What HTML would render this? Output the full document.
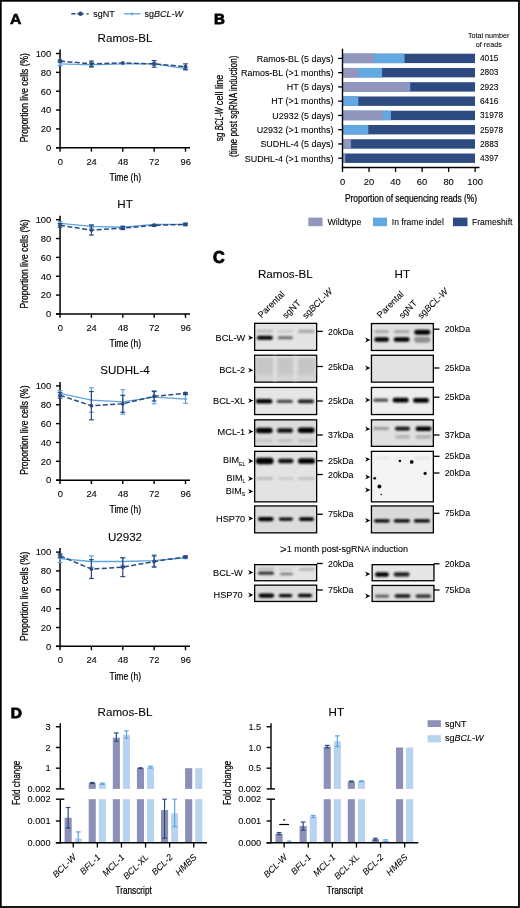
<!DOCTYPE html>
<html><head><meta charset="utf-8"><style>
html,body{margin:0;padding:0;background:#fff;}
svg{display:block;font-family:"Liberation Sans", sans-serif;will-change:transform;}
text{stroke:#000;stroke-width:0.08px;}
text.c{stroke-width:0.24px;}
</style></head><body>
<svg width="520" height="908" viewBox="0 0 520 908">
<rect width="520" height="908" fill="#fff"/>
<text x="10.10" y="23.90" font-size="15.4" text-anchor="start" fill="#000" font-weight="bold" textLength="11.4" lengthAdjust="spacingAndGlyphs" class="c" style="stroke-width:0.55px">A</text>
<line x1="71.30" y1="13.80" x2="75.60" y2="13.80" stroke="#2c4a7e" stroke-width="1.5"/>
<line x1="77.20" y1="13.80" x2="83.80" y2="13.80" stroke="#2c4a7e" stroke-width="1.5"/>
<line x1="86.60" y1="13.80" x2="88.60" y2="13.80" stroke="#2c4a7e" stroke-width="1.5"/>
<circle cx="80.5" cy="13.8" r="2.2" fill="#2c4a7e"/>
<text x="93.20" y="16.80" font-size="9" text-anchor="start" fill="#000">sgNT</text>
<line x1="123.80" y1="13.80" x2="140.50" y2="13.80" stroke="#5ea4de" stroke-width="1.3"/>
<path d="M132 12.2 L133.6 13.8 L132 15.4 L130.4 13.8Z" fill="#5ea4de"/>
<text x="144.50" y="16.80" font-size="9" text-anchor="start" fill="#000">sg<tspan font-style="italic">BCL-W</tspan></text>
<text x="125.00" y="42.00" font-size="11.6" text-anchor="middle" fill="#000">Ramos-BL</text>
<line x1="60.05" y1="49.50" x2="60.05" y2="148.45" stroke="#000" stroke-width="1.5"/>
<line x1="56.00" y1="147.75" x2="190.00" y2="147.75" stroke="#000" stroke-width="1.5"/>
<line x1="56.00" y1="147.75" x2="60.05" y2="147.75" stroke="#000" stroke-width="1.4"/>
<text x="51.30" y="151.05" font-size="9.4" text-anchor="end" fill="#000">0</text>
<line x1="56.00" y1="128.90" x2="60.05" y2="128.90" stroke="#000" stroke-width="1.4"/>
<text x="51.30" y="132.20" font-size="9.4" text-anchor="end" fill="#000">20</text>
<line x1="56.00" y1="110.05" x2="60.05" y2="110.05" stroke="#000" stroke-width="1.4"/>
<text x="51.30" y="113.35" font-size="9.4" text-anchor="end" fill="#000">40</text>
<line x1="56.00" y1="91.20" x2="60.05" y2="91.20" stroke="#000" stroke-width="1.4"/>
<text x="51.30" y="94.50" font-size="9.4" text-anchor="end" fill="#000">60</text>
<line x1="56.00" y1="72.35" x2="60.05" y2="72.35" stroke="#000" stroke-width="1.4"/>
<text x="51.30" y="75.65" font-size="9.4" text-anchor="end" fill="#000">80</text>
<line x1="56.00" y1="53.50" x2="60.05" y2="53.50" stroke="#000" stroke-width="1.4"/>
<text x="51.30" y="56.80" font-size="9.4" text-anchor="end" fill="#000">100</text>
<line x1="60.05" y1="147.75" x2="60.05" y2="151.65" stroke="#000" stroke-width="1.4"/>
<text x="60.25" y="164.85" font-size="9.4" text-anchor="middle" fill="#000">0</text>
<line x1="91.41" y1="147.75" x2="91.41" y2="151.65" stroke="#000" stroke-width="1.4"/>
<text x="91.61" y="164.85" font-size="9.4" text-anchor="middle" fill="#000">24</text>
<line x1="122.78" y1="147.75" x2="122.78" y2="151.65" stroke="#000" stroke-width="1.4"/>
<text x="122.98" y="164.85" font-size="9.4" text-anchor="middle" fill="#000">48</text>
<line x1="154.14" y1="147.75" x2="154.14" y2="151.65" stroke="#000" stroke-width="1.4"/>
<text x="154.34" y="164.85" font-size="9.4" text-anchor="middle" fill="#000">72</text>
<line x1="185.50" y1="147.75" x2="185.50" y2="151.65" stroke="#000" stroke-width="1.4"/>
<text x="185.70" y="164.85" font-size="9.4" text-anchor="middle" fill="#000">96</text>
<text x="125.30" y="181.05" font-size="11.6" text-anchor="middle" fill="#000" textLength="31.6" lengthAdjust="spacingAndGlyphs" class="c">Time (h)</text>
<text x="27.80" y="97.70" font-size="11.0" text-anchor="middle" fill="#000" textLength="89.2" lengthAdjust="spacingAndGlyphs" class="c" transform="rotate(-90 27.80 97.70)">Proportion live cells (%)</text>
<polyline points="60.05,63.87 91.41,64.81 122.78,63.87 154.14,63.87 185.50,68.58" fill="none" stroke="#5ea4de" stroke-width="1.3"/>
<line x1="60.05" y1="61.98" x2="60.05" y2="65.75" stroke="#5ea4de" stroke-width="1.2"/>
<line x1="57.65" y1="61.98" x2="62.45" y2="61.98" stroke="#5ea4de" stroke-width="1.2"/>
<line x1="57.65" y1="65.75" x2="62.45" y2="65.75" stroke="#5ea4de" stroke-width="1.2"/>
<path d="M60.05 62.27 L61.65 63.87 L60.05 65.47 L58.45 63.87Z" fill="#5ea4de"/>
<line x1="91.41" y1="62.45" x2="91.41" y2="67.17" stroke="#5ea4de" stroke-width="1.2"/>
<line x1="89.01" y1="62.45" x2="93.81" y2="62.45" stroke="#5ea4de" stroke-width="1.2"/>
<line x1="89.01" y1="67.17" x2="93.81" y2="67.17" stroke="#5ea4de" stroke-width="1.2"/>
<path d="M91.41 63.21 L93.01 64.81 L91.41 66.41 L89.81 64.81Z" fill="#5ea4de"/>
<path d="M122.78 62.27 L124.38 63.87 L122.78 65.47 L121.18 63.87Z" fill="#5ea4de"/>
<line x1="154.14" y1="62.45" x2="154.14" y2="65.28" stroke="#5ea4de" stroke-width="1.2"/>
<line x1="151.74" y1="62.45" x2="156.54" y2="62.45" stroke="#5ea4de" stroke-width="1.2"/>
<line x1="151.74" y1="65.28" x2="156.54" y2="65.28" stroke="#5ea4de" stroke-width="1.2"/>
<path d="M154.14 62.27 L155.74 63.87 L154.14 65.47 L152.54 63.87Z" fill="#5ea4de"/>
<line x1="185.50" y1="67.17" x2="185.50" y2="69.99" stroke="#5ea4de" stroke-width="1.2"/>
<line x1="183.10" y1="67.17" x2="187.90" y2="67.17" stroke="#5ea4de" stroke-width="1.2"/>
<line x1="183.10" y1="69.99" x2="187.90" y2="69.99" stroke="#5ea4de" stroke-width="1.2"/>
<path d="M185.50 66.98 L187.10 68.58 L185.50 70.18 L183.90 68.58Z" fill="#5ea4de"/>
<polyline points="60.05,61.04 91.41,63.87 122.78,62.92 154.14,63.87 185.50,66.69" fill="none" stroke="#2c4a7e" stroke-width="1.5" stroke-dasharray="5 2.4"/>
<line x1="60.05" y1="60.10" x2="60.05" y2="61.98" stroke="#2c4a7e" stroke-width="1.2"/>
<line x1="57.65" y1="60.10" x2="62.45" y2="60.10" stroke="#2c4a7e" stroke-width="1.2"/>
<line x1="57.65" y1="61.98" x2="62.45" y2="61.98" stroke="#2c4a7e" stroke-width="1.2"/>
<circle cx="60.05" cy="61.04" r="1.9" fill="#2c4a7e"/>
<line x1="91.41" y1="61.04" x2="91.41" y2="66.69" stroke="#2c4a7e" stroke-width="1.2"/>
<line x1="89.01" y1="61.04" x2="93.81" y2="61.04" stroke="#2c4a7e" stroke-width="1.2"/>
<line x1="89.01" y1="66.69" x2="93.81" y2="66.69" stroke="#2c4a7e" stroke-width="1.2"/>
<circle cx="91.41" cy="63.87" r="1.9" fill="#2c4a7e"/>
<circle cx="122.78" cy="62.92" r="1.9" fill="#2c4a7e"/>
<line x1="154.14" y1="60.57" x2="154.14" y2="67.17" stroke="#2c4a7e" stroke-width="1.2"/>
<line x1="151.74" y1="60.57" x2="156.54" y2="60.57" stroke="#2c4a7e" stroke-width="1.2"/>
<line x1="151.74" y1="67.17" x2="156.54" y2="67.17" stroke="#2c4a7e" stroke-width="1.2"/>
<circle cx="154.14" cy="63.87" r="1.9" fill="#2c4a7e"/>
<line x1="185.50" y1="63.87" x2="185.50" y2="69.52" stroke="#2c4a7e" stroke-width="1.2"/>
<line x1="183.10" y1="63.87" x2="187.90" y2="63.87" stroke="#2c4a7e" stroke-width="1.2"/>
<line x1="183.10" y1="69.52" x2="187.90" y2="69.52" stroke="#2c4a7e" stroke-width="1.2"/>
<circle cx="185.50" cy="66.69" r="1.9" fill="#2c4a7e"/>
<text x="125.00" y="208.20" font-size="11.6" text-anchor="middle" fill="#000">HT</text>
<line x1="60.05" y1="215.70" x2="60.05" y2="314.65" stroke="#000" stroke-width="1.5"/>
<line x1="56.00" y1="313.95" x2="190.00" y2="313.95" stroke="#000" stroke-width="1.5"/>
<line x1="56.00" y1="313.95" x2="60.05" y2="313.95" stroke="#000" stroke-width="1.4"/>
<text x="51.30" y="317.25" font-size="9.4" text-anchor="end" fill="#000">0</text>
<line x1="56.00" y1="295.10" x2="60.05" y2="295.10" stroke="#000" stroke-width="1.4"/>
<text x="51.30" y="298.40" font-size="9.4" text-anchor="end" fill="#000">20</text>
<line x1="56.00" y1="276.25" x2="60.05" y2="276.25" stroke="#000" stroke-width="1.4"/>
<text x="51.30" y="279.55" font-size="9.4" text-anchor="end" fill="#000">40</text>
<line x1="56.00" y1="257.40" x2="60.05" y2="257.40" stroke="#000" stroke-width="1.4"/>
<text x="51.30" y="260.70" font-size="9.4" text-anchor="end" fill="#000">60</text>
<line x1="56.00" y1="238.55" x2="60.05" y2="238.55" stroke="#000" stroke-width="1.4"/>
<text x="51.30" y="241.85" font-size="9.4" text-anchor="end" fill="#000">80</text>
<line x1="56.00" y1="219.70" x2="60.05" y2="219.70" stroke="#000" stroke-width="1.4"/>
<text x="51.30" y="223.00" font-size="9.4" text-anchor="end" fill="#000">100</text>
<line x1="60.05" y1="313.95" x2="60.05" y2="317.85" stroke="#000" stroke-width="1.4"/>
<text x="60.25" y="331.05" font-size="9.4" text-anchor="middle" fill="#000">0</text>
<line x1="91.41" y1="313.95" x2="91.41" y2="317.85" stroke="#000" stroke-width="1.4"/>
<text x="91.61" y="331.05" font-size="9.4" text-anchor="middle" fill="#000">24</text>
<line x1="122.78" y1="313.95" x2="122.78" y2="317.85" stroke="#000" stroke-width="1.4"/>
<text x="122.98" y="331.05" font-size="9.4" text-anchor="middle" fill="#000">48</text>
<line x1="154.14" y1="313.95" x2="154.14" y2="317.85" stroke="#000" stroke-width="1.4"/>
<text x="154.34" y="331.05" font-size="9.4" text-anchor="middle" fill="#000">72</text>
<line x1="185.50" y1="313.95" x2="185.50" y2="317.85" stroke="#000" stroke-width="1.4"/>
<text x="185.70" y="331.05" font-size="9.4" text-anchor="middle" fill="#000">96</text>
<text x="125.30" y="347.25" font-size="11.6" text-anchor="middle" fill="#000" textLength="31.6" lengthAdjust="spacingAndGlyphs" class="c">Time (h)</text>
<text x="27.80" y="263.90" font-size="11.0" text-anchor="middle" fill="#000" textLength="89.2" lengthAdjust="spacingAndGlyphs" class="c" transform="rotate(-90 27.80 263.90)">Proportion live cells (%)</text>
<polyline points="60.05,223.47 91.41,226.30 122.78,227.24 154.14,224.41 185.50,224.41" fill="none" stroke="#5ea4de" stroke-width="1.3"/>
<line x1="60.05" y1="221.58" x2="60.05" y2="225.35" stroke="#5ea4de" stroke-width="1.2"/>
<line x1="57.65" y1="221.58" x2="62.45" y2="221.58" stroke="#5ea4de" stroke-width="1.2"/>
<line x1="57.65" y1="225.35" x2="62.45" y2="225.35" stroke="#5ea4de" stroke-width="1.2"/>
<path d="M60.05 221.87 L61.65 223.47 L60.05 225.07 L58.45 223.47Z" fill="#5ea4de"/>
<line x1="91.41" y1="224.88" x2="91.41" y2="227.71" stroke="#5ea4de" stroke-width="1.2"/>
<line x1="89.01" y1="224.88" x2="93.81" y2="224.88" stroke="#5ea4de" stroke-width="1.2"/>
<line x1="89.01" y1="227.71" x2="93.81" y2="227.71" stroke="#5ea4de" stroke-width="1.2"/>
<path d="M91.41 224.70 L93.01 226.30 L91.41 227.90 L89.81 226.30Z" fill="#5ea4de"/>
<line x1="122.78" y1="225.83" x2="122.78" y2="228.65" stroke="#5ea4de" stroke-width="1.2"/>
<line x1="120.38" y1="225.83" x2="125.18" y2="225.83" stroke="#5ea4de" stroke-width="1.2"/>
<line x1="120.38" y1="228.65" x2="125.18" y2="228.65" stroke="#5ea4de" stroke-width="1.2"/>
<path d="M122.78 225.64 L124.38 227.24 L122.78 228.84 L121.18 227.24Z" fill="#5ea4de"/>
<path d="M154.14 222.81 L155.74 224.41 L154.14 226.01 L152.54 224.41Z" fill="#5ea4de"/>
<line x1="185.50" y1="223.00" x2="185.50" y2="225.83" stroke="#5ea4de" stroke-width="1.2"/>
<line x1="183.10" y1="223.00" x2="187.90" y2="223.00" stroke="#5ea4de" stroke-width="1.2"/>
<line x1="183.10" y1="225.83" x2="187.90" y2="225.83" stroke="#5ea4de" stroke-width="1.2"/>
<path d="M185.50 222.81 L187.10 224.41 L185.50 226.01 L183.90 224.41Z" fill="#5ea4de"/>
<polyline points="60.05,225.35 91.41,230.07 122.78,228.18 154.14,225.35 185.50,224.41" fill="none" stroke="#2c4a7e" stroke-width="1.5" stroke-dasharray="5 2.4"/>
<line x1="60.05" y1="223.47" x2="60.05" y2="227.24" stroke="#2c4a7e" stroke-width="1.2"/>
<line x1="57.65" y1="223.47" x2="62.45" y2="223.47" stroke="#2c4a7e" stroke-width="1.2"/>
<line x1="57.65" y1="227.24" x2="62.45" y2="227.24" stroke="#2c4a7e" stroke-width="1.2"/>
<circle cx="60.05" cy="225.35" r="1.9" fill="#2c4a7e"/>
<line x1="91.41" y1="225.07" x2="91.41" y2="235.06" stroke="#2c4a7e" stroke-width="1.2"/>
<line x1="89.01" y1="225.07" x2="93.81" y2="225.07" stroke="#2c4a7e" stroke-width="1.2"/>
<line x1="89.01" y1="235.06" x2="93.81" y2="235.06" stroke="#2c4a7e" stroke-width="1.2"/>
<circle cx="91.41" cy="230.07" r="1.9" fill="#2c4a7e"/>
<line x1="122.78" y1="226.77" x2="122.78" y2="229.60" stroke="#2c4a7e" stroke-width="1.2"/>
<line x1="120.38" y1="226.77" x2="125.18" y2="226.77" stroke="#2c4a7e" stroke-width="1.2"/>
<line x1="120.38" y1="229.60" x2="125.18" y2="229.60" stroke="#2c4a7e" stroke-width="1.2"/>
<circle cx="122.78" cy="228.18" r="1.9" fill="#2c4a7e"/>
<line x1="154.14" y1="224.41" x2="154.14" y2="226.30" stroke="#2c4a7e" stroke-width="1.2"/>
<line x1="151.74" y1="224.41" x2="156.54" y2="224.41" stroke="#2c4a7e" stroke-width="1.2"/>
<line x1="151.74" y1="226.30" x2="156.54" y2="226.30" stroke="#2c4a7e" stroke-width="1.2"/>
<circle cx="154.14" cy="225.35" r="1.9" fill="#2c4a7e"/>
<line x1="185.50" y1="223.47" x2="185.50" y2="225.35" stroke="#2c4a7e" stroke-width="1.2"/>
<line x1="183.10" y1="223.47" x2="187.90" y2="223.47" stroke="#2c4a7e" stroke-width="1.2"/>
<line x1="183.10" y1="225.35" x2="187.90" y2="225.35" stroke="#2c4a7e" stroke-width="1.2"/>
<circle cx="185.50" cy="224.41" r="1.9" fill="#2c4a7e"/>
<text x="125.00" y="374.40" font-size="11.6" text-anchor="middle" fill="#000">SUDHL-4</text>
<line x1="60.05" y1="381.90" x2="60.05" y2="480.85" stroke="#000" stroke-width="1.5"/>
<line x1="56.00" y1="480.15" x2="190.00" y2="480.15" stroke="#000" stroke-width="1.5"/>
<line x1="56.00" y1="480.15" x2="60.05" y2="480.15" stroke="#000" stroke-width="1.4"/>
<text x="51.30" y="483.45" font-size="9.4" text-anchor="end" fill="#000">0</text>
<line x1="56.00" y1="461.30" x2="60.05" y2="461.30" stroke="#000" stroke-width="1.4"/>
<text x="51.30" y="464.60" font-size="9.4" text-anchor="end" fill="#000">20</text>
<line x1="56.00" y1="442.45" x2="60.05" y2="442.45" stroke="#000" stroke-width="1.4"/>
<text x="51.30" y="445.75" font-size="9.4" text-anchor="end" fill="#000">40</text>
<line x1="56.00" y1="423.60" x2="60.05" y2="423.60" stroke="#000" stroke-width="1.4"/>
<text x="51.30" y="426.90" font-size="9.4" text-anchor="end" fill="#000">60</text>
<line x1="56.00" y1="404.75" x2="60.05" y2="404.75" stroke="#000" stroke-width="1.4"/>
<text x="51.30" y="408.05" font-size="9.4" text-anchor="end" fill="#000">80</text>
<line x1="56.00" y1="385.90" x2="60.05" y2="385.90" stroke="#000" stroke-width="1.4"/>
<text x="51.30" y="389.20" font-size="9.4" text-anchor="end" fill="#000">100</text>
<line x1="60.05" y1="480.15" x2="60.05" y2="484.05" stroke="#000" stroke-width="1.4"/>
<text x="60.25" y="497.25" font-size="9.4" text-anchor="middle" fill="#000">0</text>
<line x1="91.41" y1="480.15" x2="91.41" y2="484.05" stroke="#000" stroke-width="1.4"/>
<text x="91.61" y="497.25" font-size="9.4" text-anchor="middle" fill="#000">24</text>
<line x1="122.78" y1="480.15" x2="122.78" y2="484.05" stroke="#000" stroke-width="1.4"/>
<text x="122.98" y="497.25" font-size="9.4" text-anchor="middle" fill="#000">48</text>
<line x1="154.14" y1="480.15" x2="154.14" y2="484.05" stroke="#000" stroke-width="1.4"/>
<text x="154.34" y="497.25" font-size="9.4" text-anchor="middle" fill="#000">72</text>
<line x1="185.50" y1="480.15" x2="185.50" y2="484.05" stroke="#000" stroke-width="1.4"/>
<text x="185.70" y="497.25" font-size="9.4" text-anchor="middle" fill="#000">96</text>
<text x="125.30" y="513.45" font-size="11.6" text-anchor="middle" fill="#000" textLength="31.6" lengthAdjust="spacingAndGlyphs" class="c">Time (h)</text>
<text x="27.80" y="430.10" font-size="11.0" text-anchor="middle" fill="#000" textLength="89.2" lengthAdjust="spacingAndGlyphs" class="c" transform="rotate(-90 27.80 430.10)">Proportion live cells (%)</text>
<polyline points="60.05,393.44 91.41,400.04 122.78,401.92 154.14,397.21 185.50,399.09" fill="none" stroke="#5ea4de" stroke-width="1.3"/>
<line x1="60.05" y1="390.61" x2="60.05" y2="396.27" stroke="#5ea4de" stroke-width="1.2"/>
<line x1="57.65" y1="390.61" x2="62.45" y2="390.61" stroke="#5ea4de" stroke-width="1.2"/>
<line x1="57.65" y1="396.27" x2="62.45" y2="396.27" stroke="#5ea4de" stroke-width="1.2"/>
<path d="M60.05 391.84 L61.65 393.44 L60.05 395.04 L58.45 393.44Z" fill="#5ea4de"/>
<line x1="91.41" y1="387.78" x2="91.41" y2="412.29" stroke="#5ea4de" stroke-width="1.2"/>
<line x1="89.01" y1="387.78" x2="93.81" y2="387.78" stroke="#5ea4de" stroke-width="1.2"/>
<line x1="89.01" y1="412.29" x2="93.81" y2="412.29" stroke="#5ea4de" stroke-width="1.2"/>
<path d="M91.41 398.44 L93.01 400.04 L91.41 401.64 L89.81 400.04Z" fill="#5ea4de"/>
<line x1="122.78" y1="389.67" x2="122.78" y2="414.17" stroke="#5ea4de" stroke-width="1.2"/>
<line x1="120.38" y1="389.67" x2="125.18" y2="389.67" stroke="#5ea4de" stroke-width="1.2"/>
<line x1="120.38" y1="414.17" x2="125.18" y2="414.17" stroke="#5ea4de" stroke-width="1.2"/>
<path d="M122.78 400.32 L124.38 401.92 L122.78 403.52 L121.18 401.92Z" fill="#5ea4de"/>
<line x1="154.14" y1="390.61" x2="154.14" y2="403.81" stroke="#5ea4de" stroke-width="1.2"/>
<line x1="151.74" y1="390.61" x2="156.54" y2="390.61" stroke="#5ea4de" stroke-width="1.2"/>
<line x1="151.74" y1="403.81" x2="156.54" y2="403.81" stroke="#5ea4de" stroke-width="1.2"/>
<path d="M154.14 395.61 L155.74 397.21 L154.14 398.81 L152.54 397.21Z" fill="#5ea4de"/>
<line x1="185.50" y1="394.85" x2="185.50" y2="403.34" stroke="#5ea4de" stroke-width="1.2"/>
<line x1="183.10" y1="394.85" x2="187.90" y2="394.85" stroke="#5ea4de" stroke-width="1.2"/>
<line x1="183.10" y1="403.34" x2="187.90" y2="403.34" stroke="#5ea4de" stroke-width="1.2"/>
<path d="M185.50 397.49 L187.10 399.09 L185.50 400.69 L183.90 399.09Z" fill="#5ea4de"/>
<polyline points="60.05,395.32 91.41,405.69 122.78,403.81 154.14,396.27 185.50,393.44" fill="none" stroke="#2c4a7e" stroke-width="1.5" stroke-dasharray="5 2.4"/>
<line x1="60.05" y1="392.50" x2="60.05" y2="398.15" stroke="#2c4a7e" stroke-width="1.2"/>
<line x1="57.65" y1="392.50" x2="62.45" y2="392.50" stroke="#2c4a7e" stroke-width="1.2"/>
<line x1="57.65" y1="398.15" x2="62.45" y2="398.15" stroke="#2c4a7e" stroke-width="1.2"/>
<circle cx="60.05" cy="395.32" r="1.9" fill="#2c4a7e"/>
<line x1="91.41" y1="391.55" x2="91.41" y2="419.83" stroke="#2c4a7e" stroke-width="1.2"/>
<line x1="89.01" y1="391.55" x2="93.81" y2="391.55" stroke="#2c4a7e" stroke-width="1.2"/>
<line x1="89.01" y1="419.83" x2="93.81" y2="419.83" stroke="#2c4a7e" stroke-width="1.2"/>
<circle cx="91.41" cy="405.69" r="1.9" fill="#2c4a7e"/>
<line x1="122.78" y1="395.32" x2="122.78" y2="412.29" stroke="#2c4a7e" stroke-width="1.2"/>
<line x1="120.38" y1="395.32" x2="125.18" y2="395.32" stroke="#2c4a7e" stroke-width="1.2"/>
<line x1="120.38" y1="412.29" x2="125.18" y2="412.29" stroke="#2c4a7e" stroke-width="1.2"/>
<circle cx="122.78" cy="403.81" r="1.9" fill="#2c4a7e"/>
<line x1="154.14" y1="391.55" x2="154.14" y2="400.98" stroke="#2c4a7e" stroke-width="1.2"/>
<line x1="151.74" y1="391.55" x2="156.54" y2="391.55" stroke="#2c4a7e" stroke-width="1.2"/>
<line x1="151.74" y1="400.98" x2="156.54" y2="400.98" stroke="#2c4a7e" stroke-width="1.2"/>
<circle cx="154.14" cy="396.27" r="1.9" fill="#2c4a7e"/>
<line x1="185.50" y1="392.50" x2="185.50" y2="394.38" stroke="#2c4a7e" stroke-width="1.2"/>
<line x1="183.10" y1="392.50" x2="187.90" y2="392.50" stroke="#2c4a7e" stroke-width="1.2"/>
<line x1="183.10" y1="394.38" x2="187.90" y2="394.38" stroke="#2c4a7e" stroke-width="1.2"/>
<circle cx="185.50" cy="393.44" r="1.9" fill="#2c4a7e"/>
<text x="125.00" y="540.60" font-size="11.6" text-anchor="middle" fill="#000">U2932</text>
<line x1="60.05" y1="548.10" x2="60.05" y2="647.05" stroke="#000" stroke-width="1.5"/>
<line x1="56.00" y1="646.35" x2="190.00" y2="646.35" stroke="#000" stroke-width="1.5"/>
<line x1="56.00" y1="646.35" x2="60.05" y2="646.35" stroke="#000" stroke-width="1.4"/>
<text x="51.30" y="649.65" font-size="9.4" text-anchor="end" fill="#000">0</text>
<line x1="56.00" y1="627.50" x2="60.05" y2="627.50" stroke="#000" stroke-width="1.4"/>
<text x="51.30" y="630.80" font-size="9.4" text-anchor="end" fill="#000">20</text>
<line x1="56.00" y1="608.65" x2="60.05" y2="608.65" stroke="#000" stroke-width="1.4"/>
<text x="51.30" y="611.95" font-size="9.4" text-anchor="end" fill="#000">40</text>
<line x1="56.00" y1="589.80" x2="60.05" y2="589.80" stroke="#000" stroke-width="1.4"/>
<text x="51.30" y="593.10" font-size="9.4" text-anchor="end" fill="#000">60</text>
<line x1="56.00" y1="570.95" x2="60.05" y2="570.95" stroke="#000" stroke-width="1.4"/>
<text x="51.30" y="574.25" font-size="9.4" text-anchor="end" fill="#000">80</text>
<line x1="56.00" y1="552.10" x2="60.05" y2="552.10" stroke="#000" stroke-width="1.4"/>
<text x="51.30" y="555.40" font-size="9.4" text-anchor="end" fill="#000">100</text>
<line x1="60.05" y1="646.35" x2="60.05" y2="650.25" stroke="#000" stroke-width="1.4"/>
<text x="60.25" y="663.45" font-size="9.4" text-anchor="middle" fill="#000">0</text>
<line x1="91.41" y1="646.35" x2="91.41" y2="650.25" stroke="#000" stroke-width="1.4"/>
<text x="91.61" y="663.45" font-size="9.4" text-anchor="middle" fill="#000">24</text>
<line x1="122.78" y1="646.35" x2="122.78" y2="650.25" stroke="#000" stroke-width="1.4"/>
<text x="122.98" y="663.45" font-size="9.4" text-anchor="middle" fill="#000">48</text>
<line x1="154.14" y1="646.35" x2="154.14" y2="650.25" stroke="#000" stroke-width="1.4"/>
<text x="154.34" y="663.45" font-size="9.4" text-anchor="middle" fill="#000">72</text>
<line x1="185.50" y1="646.35" x2="185.50" y2="650.25" stroke="#000" stroke-width="1.4"/>
<text x="185.70" y="663.45" font-size="9.4" text-anchor="middle" fill="#000">96</text>
<text x="125.30" y="679.65" font-size="11.6" text-anchor="middle" fill="#000" textLength="31.6" lengthAdjust="spacingAndGlyphs" class="c">Time (h)</text>
<text x="27.80" y="596.30" font-size="11.0" text-anchor="middle" fill="#000" textLength="89.2" lengthAdjust="spacingAndGlyphs" class="c" transform="rotate(-90 27.80 596.30)">Proportion live cells (%)</text>
<polyline points="60.05,558.70 91.41,561.52 122.78,561.52 154.14,560.58 185.50,557.75" fill="none" stroke="#5ea4de" stroke-width="1.3"/>
<line x1="60.05" y1="554.93" x2="60.05" y2="562.47" stroke="#5ea4de" stroke-width="1.2"/>
<line x1="57.65" y1="554.93" x2="62.45" y2="554.93" stroke="#5ea4de" stroke-width="1.2"/>
<line x1="57.65" y1="562.47" x2="62.45" y2="562.47" stroke="#5ea4de" stroke-width="1.2"/>
<path d="M60.05 557.10 L61.65 558.70 L60.05 560.30 L58.45 558.70Z" fill="#5ea4de"/>
<line x1="91.41" y1="555.87" x2="91.41" y2="567.18" stroke="#5ea4de" stroke-width="1.2"/>
<line x1="89.01" y1="555.87" x2="93.81" y2="555.87" stroke="#5ea4de" stroke-width="1.2"/>
<line x1="89.01" y1="567.18" x2="93.81" y2="567.18" stroke="#5ea4de" stroke-width="1.2"/>
<path d="M91.41 559.92 L93.01 561.52 L91.41 563.12 L89.81 561.52Z" fill="#5ea4de"/>
<line x1="122.78" y1="557.75" x2="122.78" y2="565.29" stroke="#5ea4de" stroke-width="1.2"/>
<line x1="120.38" y1="557.75" x2="125.18" y2="557.75" stroke="#5ea4de" stroke-width="1.2"/>
<line x1="120.38" y1="565.29" x2="125.18" y2="565.29" stroke="#5ea4de" stroke-width="1.2"/>
<path d="M122.78 559.92 L124.38 561.52 L122.78 563.12 L121.18 561.52Z" fill="#5ea4de"/>
<line x1="154.14" y1="554.93" x2="154.14" y2="566.24" stroke="#5ea4de" stroke-width="1.2"/>
<line x1="151.74" y1="554.93" x2="156.54" y2="554.93" stroke="#5ea4de" stroke-width="1.2"/>
<line x1="151.74" y1="566.24" x2="156.54" y2="566.24" stroke="#5ea4de" stroke-width="1.2"/>
<path d="M154.14 558.98 L155.74 560.58 L154.14 562.18 L152.54 560.58Z" fill="#5ea4de"/>
<line x1="185.50" y1="556.81" x2="185.50" y2="558.70" stroke="#5ea4de" stroke-width="1.2"/>
<line x1="183.10" y1="556.81" x2="187.90" y2="556.81" stroke="#5ea4de" stroke-width="1.2"/>
<line x1="183.10" y1="558.70" x2="187.90" y2="558.70" stroke="#5ea4de" stroke-width="1.2"/>
<path d="M185.50 556.15 L187.10 557.75 L185.50 559.35 L183.90 557.75Z" fill="#5ea4de"/>
<polyline points="60.05,555.87 91.41,569.06 122.78,567.18 154.14,561.52 185.50,556.81" fill="none" stroke="#2c4a7e" stroke-width="1.5" stroke-dasharray="5 2.4"/>
<line x1="60.05" y1="553.98" x2="60.05" y2="557.75" stroke="#2c4a7e" stroke-width="1.2"/>
<line x1="57.65" y1="553.98" x2="62.45" y2="553.98" stroke="#2c4a7e" stroke-width="1.2"/>
<line x1="57.65" y1="557.75" x2="62.45" y2="557.75" stroke="#2c4a7e" stroke-width="1.2"/>
<circle cx="60.05" cy="555.87" r="1.9" fill="#2c4a7e"/>
<line x1="91.41" y1="559.64" x2="91.41" y2="578.49" stroke="#2c4a7e" stroke-width="1.2"/>
<line x1="89.01" y1="559.64" x2="93.81" y2="559.64" stroke="#2c4a7e" stroke-width="1.2"/>
<line x1="89.01" y1="578.49" x2="93.81" y2="578.49" stroke="#2c4a7e" stroke-width="1.2"/>
<circle cx="91.41" cy="569.06" r="1.9" fill="#2c4a7e"/>
<line x1="122.78" y1="557.75" x2="122.78" y2="576.60" stroke="#2c4a7e" stroke-width="1.2"/>
<line x1="120.38" y1="557.75" x2="125.18" y2="557.75" stroke="#2c4a7e" stroke-width="1.2"/>
<line x1="120.38" y1="576.60" x2="125.18" y2="576.60" stroke="#2c4a7e" stroke-width="1.2"/>
<circle cx="122.78" cy="567.18" r="1.9" fill="#2c4a7e"/>
<line x1="154.14" y1="555.87" x2="154.14" y2="567.18" stroke="#2c4a7e" stroke-width="1.2"/>
<line x1="151.74" y1="555.87" x2="156.54" y2="555.87" stroke="#2c4a7e" stroke-width="1.2"/>
<line x1="151.74" y1="567.18" x2="156.54" y2="567.18" stroke="#2c4a7e" stroke-width="1.2"/>
<circle cx="154.14" cy="561.52" r="1.9" fill="#2c4a7e"/>
<line x1="185.50" y1="555.87" x2="185.50" y2="557.75" stroke="#2c4a7e" stroke-width="1.2"/>
<line x1="183.10" y1="555.87" x2="187.90" y2="555.87" stroke="#2c4a7e" stroke-width="1.2"/>
<line x1="183.10" y1="557.75" x2="187.90" y2="557.75" stroke="#2c4a7e" stroke-width="1.2"/>
<circle cx="185.50" cy="556.81" r="1.9" fill="#2c4a7e"/>
<text x="213.90" y="24.40" font-size="15.0" text-anchor="start" fill="#000" font-weight="bold" style="stroke-width:0.9px">B</text>
<rect x="343.30" y="53.70" width="131.70" height="9.40" fill="#2d4b80"/>
<rect x="343.30" y="53.70" width="61.24" height="9.40" fill="#62a8e2"/>
<rect x="343.30" y="53.70" width="30.42" height="9.40" fill="#9296bc"/>
<line x1="338.20" y1="58.40" x2="342.50" y2="58.40" stroke="#000" stroke-width="1.3"/>
<text x="333.40" y="61.70" font-size="8.95" text-anchor="end" fill="#000">Ramos-BL (5 days)</text>
<text x="480.00" y="61.20" font-size="8.3" text-anchor="start" fill="#000">4015</text>
<rect x="343.30" y="67.96" width="131.70" height="9.40" fill="#2d4b80"/>
<rect x="343.30" y="67.96" width="38.72" height="9.40" fill="#62a8e2"/>
<rect x="343.30" y="67.96" width="15.15" height="9.40" fill="#9296bc"/>
<line x1="338.20" y1="72.66" x2="342.50" y2="72.66" stroke="#000" stroke-width="1.3"/>
<text x="333.40" y="75.96" font-size="8.95" text-anchor="end" fill="#000">Ramos-BL (&gt;1 months)</text>
<text x="480.00" y="75.46" font-size="8.3" text-anchor="start" fill="#000">2803</text>
<rect x="343.30" y="82.22" width="131.70" height="9.40" fill="#2d4b80"/>
<rect x="343.30" y="82.22" width="66.90" height="9.40" fill="#62a8e2"/>
<rect x="343.30" y="82.22" width="65.45" height="9.40" fill="#9296bc"/>
<line x1="338.20" y1="86.92" x2="342.50" y2="86.92" stroke="#000" stroke-width="1.3"/>
<text x="333.40" y="90.22" font-size="8.95" text-anchor="end" fill="#000">HT (5 days)</text>
<text x="480.00" y="89.72" font-size="8.3" text-anchor="start" fill="#000">2923</text>
<rect x="343.30" y="96.48" width="131.70" height="9.40" fill="#2d4b80"/>
<rect x="343.30" y="96.48" width="15.01" height="9.40" fill="#62a8e2"/>
<line x1="338.20" y1="101.18" x2="342.50" y2="101.18" stroke="#000" stroke-width="1.3"/>
<text x="333.40" y="104.48" font-size="8.95" text-anchor="end" fill="#000">HT (&gt;1 months)</text>
<text x="480.00" y="103.98" font-size="8.3" text-anchor="start" fill="#000">6416</text>
<rect x="343.30" y="110.74" width="131.70" height="9.40" fill="#2d4b80"/>
<rect x="343.30" y="110.74" width="47.68" height="9.40" fill="#62a8e2"/>
<rect x="343.30" y="110.74" width="39.51" height="9.40" fill="#9296bc"/>
<line x1="338.20" y1="115.44" x2="342.50" y2="115.44" stroke="#000" stroke-width="1.3"/>
<text x="333.40" y="118.74" font-size="8.95" text-anchor="end" fill="#000">U2932 (5 days)</text>
<text x="480.00" y="118.24" font-size="8.3" text-anchor="start" fill="#000">31978</text>
<rect x="343.30" y="125.00" width="131.70" height="9.40" fill="#2d4b80"/>
<rect x="343.30" y="125.00" width="25.02" height="9.40" fill="#62a8e2"/>
<line x1="338.20" y1="129.70" x2="342.50" y2="129.70" stroke="#000" stroke-width="1.3"/>
<text x="333.40" y="133.00" font-size="8.95" text-anchor="end" fill="#000">U2932 (&gt;1 months)</text>
<text x="480.00" y="132.50" font-size="8.3" text-anchor="start" fill="#000">25978</text>
<rect x="343.30" y="139.26" width="131.70" height="9.40" fill="#2d4b80"/>
<rect x="343.30" y="139.26" width="7.64" height="9.40" fill="#62a8e2"/>
<rect x="343.30" y="139.26" width="7.64" height="9.40" fill="#9296bc"/>
<line x1="338.20" y1="143.96" x2="342.50" y2="143.96" stroke="#000" stroke-width="1.3"/>
<text x="333.40" y="147.26" font-size="8.95" text-anchor="end" fill="#000">SUDHL-4 (5 days)</text>
<text x="480.00" y="146.76" font-size="8.3" text-anchor="start" fill="#000">2883</text>
<rect x="343.30" y="153.52" width="131.70" height="9.40" fill="#2d4b80"/>
<rect x="343.30" y="153.52" width="1.84" height="9.40" fill="#62a8e2"/>
<rect x="343.30" y="153.52" width="1.84" height="9.40" fill="#9296bc"/>
<line x1="338.20" y1="158.22" x2="342.50" y2="158.22" stroke="#000" stroke-width="1.3"/>
<text x="333.40" y="161.52" font-size="8.95" text-anchor="end" fill="#000">SUDHL-4 (&gt;1 months)</text>
<text x="480.00" y="161.02" font-size="8.3" text-anchor="start" fill="#000">4397</text>
<line x1="342.50" y1="48.70" x2="342.50" y2="168.20" stroke="#000" stroke-width="1.4"/>
<line x1="341.80" y1="167.50" x2="479.50" y2="167.50" stroke="#000" stroke-width="1.4"/>
<line x1="342.50" y1="167.50" x2="342.50" y2="172.00" stroke="#000" stroke-width="1.3"/>
<text x="342.50" y="184.50" font-size="9.4" text-anchor="middle" fill="#000">0</text>
<line x1="369.03" y1="167.50" x2="369.03" y2="172.00" stroke="#000" stroke-width="1.3"/>
<text x="369.03" y="184.50" font-size="9.4" text-anchor="middle" fill="#000">20</text>
<line x1="395.56" y1="167.50" x2="395.56" y2="172.00" stroke="#000" stroke-width="1.3"/>
<text x="395.56" y="184.50" font-size="9.4" text-anchor="middle" fill="#000">40</text>
<line x1="422.09" y1="167.50" x2="422.09" y2="172.00" stroke="#000" stroke-width="1.3"/>
<text x="422.09" y="184.50" font-size="9.4" text-anchor="middle" fill="#000">60</text>
<line x1="448.62" y1="167.50" x2="448.62" y2="172.00" stroke="#000" stroke-width="1.3"/>
<text x="448.62" y="184.50" font-size="9.4" text-anchor="middle" fill="#000">80</text>
<line x1="475.15" y1="167.50" x2="475.15" y2="172.00" stroke="#000" stroke-width="1.3"/>
<text x="475.15" y="184.50" font-size="9.4" text-anchor="middle" fill="#000">100</text>
<text x="411.00" y="201.60" font-size="11.0" text-anchor="middle" fill="#000" textLength="132.2" lengthAdjust="spacingAndGlyphs" class="c">Proportion of sequencing reads (%)</text>
<text x="488.70" y="37.80" font-size="7.8" text-anchor="middle" fill="#000" textLength="41.5" lengthAdjust="spacingAndGlyphs">Total number</text>
<text x="488.80" y="47.30" font-size="7.8" text-anchor="middle" fill="#000" textLength="26" lengthAdjust="spacingAndGlyphs">of reads</text>
<text x="223.20" y="141.30" font-size="10.3" text-anchor="start" fill="#000" textLength="8.8" lengthAdjust="spacingAndGlyphs" class="c" transform="rotate(-90 223.20 141.30)">sg</text>
<text x="223.20" y="130.30" font-size="10.3" text-anchor="start" fill="#000" font-style="italic" textLength="22.6" lengthAdjust="spacingAndGlyphs" class="c" transform="rotate(-90 223.20 130.30)">BCL-W</text>
<text x="223.20" y="105.20" font-size="10.3" text-anchor="start" fill="#000" textLength="30.6" lengthAdjust="spacingAndGlyphs" class="c" transform="rotate(-90 223.20 105.20)">cell line</text>
<text x="237.50" y="106.30" font-size="10.2" text-anchor="middle" fill="#000" textLength="101.5" lengthAdjust="spacingAndGlyphs" class="c" transform="rotate(-90 237.50 106.30)">(time post sgRNA induction)</text>
<rect x="308.30" y="217.60" width="14.20" height="8.60" fill="#9296bc"/>
<text x="327.50" y="225.00" font-size="9.0" text-anchor="start" fill="#000" textLength="33.8" lengthAdjust="spacingAndGlyphs">Wildtype</text>
<rect x="373.00" y="217.60" width="14.00" height="8.60" fill="#62a8e2"/>
<text x="391.80" y="225.00" font-size="9.0" text-anchor="start" fill="#000" textLength="52.0" lengthAdjust="spacingAndGlyphs">In frame indel</text>
<rect x="453.00" y="217.60" width="14.50" height="8.60" fill="#2d4b80"/>
<text x="472.00" y="225.00" font-size="9.0" text-anchor="start" fill="#000" textLength="40.5" lengthAdjust="spacingAndGlyphs">Frameshift</text>
<rect x="0.8" y="0.8" width="518.2" height="906.2" fill="none" stroke="#000" stroke-width="1.8"/>
<text x="212.90" y="262.60" font-size="16.2" text-anchor="start" fill="#000" font-weight="bold" style="stroke-width:0.9px">C</text>
<text x="285.30" y="278.20" font-size="11.6" text-anchor="middle" fill="#000">Ramos-BL</text>
<text x="402.30" y="278.20" font-size="11.6" text-anchor="middle" fill="#000">HT</text>
<text x="261.50" y="318.50" font-size="9.0" text-anchor="start" fill="#000" transform="rotate(-45 261.50 318.50)">Parental</text>
<text x="286.10" y="318.90" font-size="9.0" text-anchor="start" fill="#000" transform="rotate(-45 286.10 318.90)">sgNT</text>
<text x="305.90" y="319.30" font-size="9.0" text-anchor="start" fill="#000" transform="rotate(-45 305.90 319.30)">sg<tspan font-style="italic">BCL-W</tspan></text>
<text x="380.50" y="318.50" font-size="9.0" text-anchor="start" fill="#000" transform="rotate(-45 380.50 318.50)">Parental</text>
<text x="402.40" y="318.90" font-size="9.0" text-anchor="start" fill="#000" transform="rotate(-45 402.40 318.90)">sgNT</text>
<text x="421.20" y="319.30" font-size="9.0" text-anchor="start" fill="#000" transform="rotate(-45 421.20 319.30)">sg<tspan font-style="italic">BCL-W</tspan></text>
<defs><filter id="b1" x="-20%" y="-200%" width="140%" height="500%"><feGaussianBlur stdDeviation="0.85"/></filter><filter id="b2" x="-20%" y="-200%" width="140%" height="500%"><feGaussianBlur stdDeviation="1.2"/></filter><filter id="b3" x="-50%" y="-50%" width="200%" height="200%"><feGaussianBlur stdDeviation="1.4"/></filter><filter id="b05" x="-100%" y="-100%" width="300%" height="300%"><feGaussianBlur stdDeviation="0.35"/></filter><linearGradient id="bcl2" x1="0" y1="0" x2="0" y2="1"><stop offset="0" stop-color="#d0d0d0"/><stop offset="1" stop-color="#dcdcdc"/></linearGradient></defs>
<rect x="254.65" y="323.35" width="62.00" height="27.00" fill="#e4e4e4" stroke="#000" stroke-width="1.3"/>
<rect x="256.50" y="329.85" width="16.50" height="2.70" rx="1.35" fill="#bdbdbd" filter="url(#b1)"/>
<rect x="277.50" y="329.95" width="15.50" height="2.50" rx="1.25" fill="#c8c8c8" filter="url(#b1)"/>
<rect x="256.90" y="335.85" width="16.00" height="3.90" rx="1.95" fill="#000" filter="url(#b1)"/>
<rect x="277.70" y="336.25" width="15.30" height="3.10" rx="1.55" fill="#6a6a6a" filter="url(#b1)"/>
<rect x="298.00" y="329.85" width="16.40" height="3.10" rx="1.55" fill="#a8a8a8" filter="url(#b1)"/>
<rect x="254.65" y="355.25" width="62.00" height="26.90" fill="#d4d4d4" stroke="#000" stroke-width="1.3"/>
<rect x="256.50" y="357.5" width="16.50" height="17" fill="#c6c6c6" filter="url(#b3)"/>
<rect x="277.50" y="357.5" width="15.80" height="17" fill="#c6c6c6" filter="url(#b3)"/>
<rect x="298.00" y="357.5" width="16.80" height="17" fill="#c6c6c6" filter="url(#b3)"/>
<rect x="273.50" y="356" width="3" height="25" fill="#e0e0e0" filter="url(#b3)"/>
<rect x="293.90" y="356" width="3" height="25" fill="#e0e0e0" filter="url(#b3)"/>
<rect x="255.5" y="356" width="60" height="1.6" fill="#dedede" filter="url(#b05)"/>
<rect x="254.65" y="387.45" width="62.00" height="27.10" fill="#e6e6e6" stroke="#000" stroke-width="1.3"/>
<rect x="255.80" y="399.05" width="16.60" height="4.50" rx="2.25" fill="#000" filter="url(#b1)"/>
<rect x="276.60" y="399.65" width="16.40" height="3.30" rx="1.65" fill="#444" filter="url(#b1)"/>
<rect x="297.80" y="399.40" width="16.20" height="3.80" rx="1.90" fill="#1a1a1a" filter="url(#b1)"/>
<rect x="254.65" y="419.85" width="62.00" height="26.50" fill="#dcdcdc" stroke="#000" stroke-width="1.3"/>
<rect x="255.80" y="427.65" width="16.80" height="5.50" rx="2.75" fill="#050505" filter="url(#b1)"/>
<rect x="277.00" y="428.15" width="16.00" height="4.50" rx="2.25" fill="#0d0d0d" filter="url(#b1)"/>
<rect x="297.80" y="427.45" width="16.80" height="5.50" rx="2.75" fill="#050505" filter="url(#b1)"/>
<rect x="256.00" y="439.25" width="16.60" height="3.10" rx="1.55" fill="#c4c4c4" filter="url(#b1)"/>
<rect x="277.00" y="439.25" width="16.00" height="3.10" rx="1.55" fill="#c0c0c0" filter="url(#b1)"/>
<rect x="298.00" y="439.25" width="16.40" height="3.10" rx="1.55" fill="#bdbdbd" filter="url(#b1)"/>
<rect x="254.65" y="451.35" width="62.00" height="50.50" fill="#e3e3e3" stroke="#000" stroke-width="1.3"/>
<rect x="255.80" y="457.75" width="17.80" height="6.50" rx="3.25" fill="#030303" filter="url(#b1)"/>
<rect x="278.00" y="458.65" width="15.50" height="4.70" rx="2.35" fill="#0a0a0a" filter="url(#b1)"/>
<rect x="298.00" y="458.15" width="17.00" height="5.70" rx="2.85" fill="#050505" filter="url(#b1)"/>
<rect x="256.00" y="476.95" width="17.00" height="3.10" rx="1.55" fill="#bcbcbc" filter="url(#b1)"/>
<rect x="278.00" y="476.95" width="15.50" height="3.10" rx="1.55" fill="#cbcbcb" filter="url(#b1)"/>
<rect x="298.00" y="476.95" width="17.00" height="3.10" rx="1.55" fill="#c2c2c2" filter="url(#b1)"/>
<rect x="254.65" y="505.95" width="62.00" height="26.90" fill="#dcdcdc" stroke="#000" stroke-width="1.3"/>
<rect x="258.00" y="517.05" width="15.60" height="4.10" rx="2.05" fill="#000" filter="url(#b1)"/>
<rect x="278.80" y="517.45" width="14.20" height="3.30" rx="1.65" fill="#000" filter="url(#b1)"/>
<rect x="299.00" y="517.15" width="15.00" height="3.90" rx="1.95" fill="#000" filter="url(#b1)"/>
<rect x="254.65" y="564.65" width="62.00" height="16.10" fill="#e4e4e4" stroke="#000" stroke-width="1.3"/>
<rect x="258.00" y="571.55" width="16.00" height="3.30" rx="1.65" fill="#2e2e2e" filter="url(#b1)"/>
<rect x="257.50" y="567.85" width="16.50" height="2.10" rx="1.05" fill="#b5b5b5" filter="url(#b1)"/>
<rect x="280.00" y="572.65" width="13.00" height="2.70" rx="1.35" fill="#7a7a7a" filter="url(#b1)"/>
<rect x="279.00" y="568.05" width="14.00" height="1.90" rx="0.95" fill="#c9c9c9" filter="url(#b1)"/>
<rect x="299.00" y="568.15" width="16.00" height="2.30" rx="1.15" fill="#a9a9a9" filter="url(#b1)"/>
<rect x="254.65" y="585.15" width="62.00" height="16.30" fill="#dedede" stroke="#000" stroke-width="1.3"/>
<rect x="258.60" y="593.45" width="15.60" height="4.30" rx="2.15" fill="#000" filter="url(#b1)"/>
<rect x="278.80" y="593.95" width="13.50" height="3.30" rx="1.65" fill="#000" filter="url(#b1)"/>
<rect x="297.90" y="593.85" width="14.10" height="3.50" rx="1.75" fill="#000" filter="url(#b1)"/>
<rect x="371.45" y="323.55" width="61.90" height="26.90" fill="#e2e2e2" stroke="#000" stroke-width="1.3"/>
<rect x="374.30" y="330.05" width="14.60" height="3.10" rx="1.55" fill="#aaaaaa" filter="url(#b1)"/>
<rect x="393.70" y="330.05" width="15.90" height="3.10" rx="1.55" fill="#a6a6a6" filter="url(#b1)"/>
<rect x="374.30" y="337.30" width="14.60" height="4.40" rx="2.20" fill="#000" filter="url(#b1)"/>
<rect x="393.70" y="337.30" width="15.90" height="4.40" rx="2.20" fill="#000" filter="url(#b1)"/>
<rect x="414.20" y="329.85" width="16.20" height="4.90" rx="2.45" fill="#000" filter="url(#b1)"/>
<rect x="414.20" y="336.80" width="16.20" height="6.00" rx="3.00" fill="#8f8f8f" filter="url(#b2)"/>
<rect x="371.45" y="355.25" width="61.90" height="26.90" fill="#e2e2e2" stroke="#000" stroke-width="1.3"/>
<rect x="371.45" y="387.45" width="61.90" height="27.10" fill="#eeeeee" stroke="#000" stroke-width="1.3"/>
<rect x="373.20" y="398.55" width="15.00" height="3.30" rx="1.65" fill="#4a4a4a" filter="url(#b1)"/>
<rect x="392.60" y="397.85" width="16.10" height="4.70" rx="2.35" fill="#000" filter="url(#b1)"/>
<rect x="413.00" y="398.05" width="16.00" height="4.70" rx="2.35" fill="#000" filter="url(#b1)"/>
<rect x="371.45" y="419.85" width="61.90" height="26.50" fill="#e0e0e0" stroke="#000" stroke-width="1.3"/>
<rect x="373.00" y="427.35" width="16.00" height="2.50" rx="1.25" fill="#8a8a8a" filter="url(#b1)"/>
<rect x="395.00" y="426.65" width="15.00" height="3.90" rx="1.95" fill="#080808" filter="url(#b1)"/>
<rect x="415.50" y="426.55" width="16.00" height="4.50" rx="2.25" fill="#050505" filter="url(#b1)"/>
<rect x="395.00" y="434.95" width="15.00" height="3.70" rx="1.85" fill="#b4b4b4" filter="url(#b1)"/>
<rect x="415.50" y="434.95" width="16.00" height="3.70" rx="1.85" fill="#b0b0b0" filter="url(#b1)"/>
<rect x="371.45" y="451.35" width="61.90" height="50.50" fill="#f4f4f4" stroke="#000" stroke-width="1.3"/>
<rect x="374.00" y="457.20" width="16.00" height="2.00" rx="1.00" fill="#e4e4e4" filter="url(#b1)"/>
<rect x="394.00" y="457.20" width="16.00" height="2.00" rx="1.00" fill="#e6e6e6" filter="url(#b1)"/>
<rect x="414.00" y="457.20" width="17.00" height="2.00" rx="1.00" fill="#e0e0e0" filter="url(#b1)"/>
<circle cx="399.90" cy="461.00" r="1.3" fill="#111" filter="url(#b05)"/>
<circle cx="411.70" cy="461.90" r="1.9" fill="#111" filter="url(#b05)"/>
<circle cx="425.10" cy="473.40" r="1.6" fill="#111" filter="url(#b05)"/>
<circle cx="374.70" cy="478.30" r="1.4" fill="#111" filter="url(#b05)"/>
<circle cx="379.40" cy="486.60" r="2.0" fill="#111" filter="url(#b05)"/>
<circle cx="381.20" cy="494.50" r="0.8" fill="#111" filter="url(#b05)"/>
<rect x="371.45" y="505.95" width="61.90" height="26.90" fill="#dadada" stroke="#000" stroke-width="1.3"/>
<rect x="374.00" y="519.15" width="15.80" height="3.30" rx="1.65" fill="#000" filter="url(#b1)"/>
<rect x="393.70" y="519.15" width="16.30" height="3.30" rx="1.65" fill="#000" filter="url(#b1)"/>
<rect x="413.80" y="519.15" width="16.20" height="3.30" rx="1.65" fill="#000" filter="url(#b1)"/>
<rect x="372.15" y="564.65" width="61.80" height="16.10" fill="#e6e6e6" stroke="#000" stroke-width="1.3"/>
<rect x="375.00" y="572.15" width="13.90" height="4.50" rx="2.25" fill="#000" filter="url(#b1)"/>
<rect x="393.70" y="572.35" width="15.90" height="4.10" rx="2.05" fill="#1c1c1c" filter="url(#b1)"/>
<rect x="372.15" y="585.45" width="61.80" height="16.00" fill="#dedede" stroke="#000" stroke-width="1.3"/>
<rect x="375.00" y="594.75" width="14.00" height="2.70" rx="1.35" fill="#555" filter="url(#b1)"/>
<rect x="394.50" y="594.35" width="16.00" height="3.50" rx="1.75" fill="#121212" filter="url(#b1)"/>
<rect x="415.50" y="594.55" width="15.50" height="3.10" rx="1.55" fill="#262626" filter="url(#b1)"/>
<text x="245.20" y="340.90" font-size="9.2" text-anchor="end" fill="#000">BCL-W</text>
<path d="M248.10 335.30 L253.30 337.70 L248.10 340.10 L249.70 337.70Z" fill="#000"/>
<text x="245.20" y="373.40" font-size="9.2" text-anchor="end" fill="#000">BCL-2</text>
<path d="M248.10 367.80 L253.30 370.20 L248.10 372.60 L249.70 370.20Z" fill="#000"/>
<text x="245.20" y="403.80" font-size="9.2" text-anchor="end" fill="#000">BCL-XL</text>
<path d="M248.10 398.20 L253.30 400.60 L248.10 403.00 L249.70 400.60Z" fill="#000"/>
<text x="245.20" y="434.80" font-size="9.2" text-anchor="end" fill="#000">MCL-1</text>
<path d="M248.10 429.20 L253.30 431.60 L248.10 434.00 L249.70 431.60Z" fill="#000"/>
<text x="245.20" y="521.60" font-size="9.2" text-anchor="end" fill="#000">HSP70</text>
<path d="M248.10 516.00 L253.30 518.40 L248.10 520.80 L249.70 518.40Z" fill="#000"/>
<text x="242.70" y="575.60" font-size="9.2" text-anchor="end" fill="#000">BCL-W</text>
<path d="M248.10 570.00 L253.30 572.40 L248.10 574.80 L249.70 572.40Z" fill="#000"/>
<text x="242.70" y="598.20" font-size="9.2" text-anchor="end" fill="#000">HSP70</text>
<path d="M248.10 592.60 L253.30 595.00 L248.10 597.40 L249.70 595.00Z" fill="#000"/>
<text x="245.2" y="463.30" font-size="9" text-anchor="end">BIM<tspan font-size="5" dy="2.2">EL</tspan></text>
<path d="M248.10 458.60 L253.30 461.00 L248.10 463.40 L249.70 461.00Z" fill="#000"/>
<text x="245.2" y="481.10" font-size="9" text-anchor="end">BIM<tspan font-size="5" dy="2.2">L</tspan></text>
<path d="M248.10 476.30 L253.30 478.70 L248.10 481.10 L249.70 478.70Z" fill="#000"/>
<text x="245.2" y="493.80" font-size="9" text-anchor="end">BIM<tspan font-size="5" dy="2.2">S</tspan></text>
<path d="M248.10 489.00 L253.30 491.40 L248.10 493.80 L249.70 491.40Z" fill="#000"/>
<path d="M365.10 337.60 L370.30 340.00 L365.10 342.40 L366.70 340.00Z" fill="#000"/>
<path d="M365.10 365.60 L370.30 368.00 L365.10 370.40 L366.70 368.00Z" fill="#000"/>
<path d="M365.10 397.60 L370.30 400.00 L365.10 402.40 L366.70 400.00Z" fill="#000"/>
<path d="M365.10 426.50 L370.30 428.90 L365.10 431.30 L366.70 428.90Z" fill="#000"/>
<path d="M365.10 456.90 L370.30 459.30 L365.10 461.70 L366.70 459.30Z" fill="#000"/>
<path d="M365.10 474.60 L370.30 477.00 L365.10 479.40 L366.70 477.00Z" fill="#000"/>
<path d="M365.10 487.60 L370.30 490.00 L365.10 492.40 L366.70 490.00Z" fill="#000"/>
<path d="M365.10 518.10 L370.30 520.50 L365.10 522.90 L366.70 520.50Z" fill="#000"/>
<path d="M365.10 571.60 L370.30 574.00 L365.10 576.40 L366.70 574.00Z" fill="#000"/>
<path d="M365.10 593.60 L370.30 596.00 L365.10 598.40 L366.70 596.00Z" fill="#000"/>
<line x1="317.00" y1="331.40" x2="322.80" y2="331.40" stroke="#000" stroke-width="1.3"/>
<text x="328.00" y="334.50" font-size="8.8" text-anchor="start" fill="#000">20kDa</text>
<line x1="317.00" y1="366.50" x2="322.80" y2="366.50" stroke="#000" stroke-width="1.3"/>
<text x="328.00" y="369.60" font-size="8.8" text-anchor="start" fill="#000">25kDa</text>
<line x1="317.00" y1="401.00" x2="322.80" y2="401.00" stroke="#000" stroke-width="1.3"/>
<text x="328.00" y="404.10" font-size="8.8" text-anchor="start" fill="#000">25kDa</text>
<line x1="317.00" y1="435.00" x2="322.80" y2="435.00" stroke="#000" stroke-width="1.3"/>
<text x="328.00" y="438.10" font-size="8.8" text-anchor="start" fill="#000">37kDa</text>
<line x1="317.00" y1="460.80" x2="322.80" y2="460.80" stroke="#000" stroke-width="1.3"/>
<text x="328.00" y="463.90" font-size="8.8" text-anchor="start" fill="#000">25kDa</text>
<line x1="317.00" y1="474.50" x2="322.80" y2="474.50" stroke="#000" stroke-width="1.3"/>
<text x="328.00" y="477.60" font-size="8.8" text-anchor="start" fill="#000">20kDa</text>
<line x1="317.00" y1="514.30" x2="322.80" y2="514.30" stroke="#000" stroke-width="1.3"/>
<text x="328.00" y="517.40" font-size="8.8" text-anchor="start" fill="#000">75kDa</text>
<line x1="317.00" y1="563.50" x2="322.80" y2="563.50" stroke="#000" stroke-width="1.3"/>
<text x="328.00" y="566.60" font-size="8.8" text-anchor="start" fill="#000">20kDa</text>
<line x1="317.00" y1="590.00" x2="322.80" y2="590.00" stroke="#000" stroke-width="1.3"/>
<text x="328.00" y="593.10" font-size="8.8" text-anchor="start" fill="#000">75kDa</text>
<line x1="433.70" y1="329.20" x2="439.50" y2="329.20" stroke="#000" stroke-width="1.3"/>
<text x="444.70" y="332.30" font-size="8.8" text-anchor="start" fill="#000">20kDa</text>
<line x1="433.70" y1="368.00" x2="439.50" y2="368.00" stroke="#000" stroke-width="1.3"/>
<text x="444.70" y="371.10" font-size="8.8" text-anchor="start" fill="#000">25kDa</text>
<line x1="433.70" y1="397.20" x2="439.50" y2="397.20" stroke="#000" stroke-width="1.3"/>
<text x="444.70" y="400.30" font-size="8.8" text-anchor="start" fill="#000">25kDa</text>
<line x1="433.70" y1="435.00" x2="439.50" y2="435.00" stroke="#000" stroke-width="1.3"/>
<text x="444.70" y="438.10" font-size="8.8" text-anchor="start" fill="#000">37kDa</text>
<line x1="433.70" y1="456.30" x2="439.50" y2="456.30" stroke="#000" stroke-width="1.3"/>
<text x="444.70" y="459.40" font-size="8.8" text-anchor="start" fill="#000">25kDa</text>
<line x1="433.70" y1="473.00" x2="439.50" y2="473.00" stroke="#000" stroke-width="1.3"/>
<text x="444.70" y="476.10" font-size="8.8" text-anchor="start" fill="#000">20kDa</text>
<line x1="433.70" y1="513.30" x2="439.50" y2="513.30" stroke="#000" stroke-width="1.3"/>
<text x="444.70" y="516.40" font-size="8.8" text-anchor="start" fill="#000">75kDa</text>
<line x1="433.70" y1="563.80" x2="439.50" y2="563.80" stroke="#000" stroke-width="1.3"/>
<text x="444.70" y="566.90" font-size="8.8" text-anchor="start" fill="#000">20kDa</text>
<line x1="433.70" y1="590.00" x2="439.50" y2="590.00" stroke="#000" stroke-width="1.3"/>
<text x="444.70" y="593.10" font-size="8.8" text-anchor="start" fill="#000">75kDa</text>
<text x="280.00" y="552.30" font-size="9.0" text-anchor="start" fill="#000" textLength="128" lengthAdjust="spacingAndGlyphs"><tspan font-size="11.5" dy="0.4">&gt;</tspan><tspan dy="-0.4">1 month post-sgRNA induction</tspan></text>
<text x="10.80" y="718.10" font-size="15.4" text-anchor="start" fill="#000" font-weight="bold" textLength="11.2" lengthAdjust="spacingAndGlyphs" class="c" style="stroke-width:0.9px">D</text>
<text x="125.00" y="715.60" font-size="11.6" text-anchor="middle" fill="#000">Ramos-BL</text>
<rect x="64.60" y="817.73" width="7.10" height="25.07" fill="#8c90b6"/>
<line x1="68.15" y1="807.48" x2="68.15" y2="827.98" stroke="#2c4a7e" stroke-width="1.2"/>
<line x1="65.85" y1="807.48" x2="70.45" y2="807.48" stroke="#2c4a7e" stroke-width="1.2"/>
<line x1="65.85" y1="827.98" x2="70.45" y2="827.98" stroke="#2c4a7e" stroke-width="1.2"/>
<rect x="74.70" y="838.44" width="7.10" height="4.36" fill="#b8d3f0"/>
<line x1="78.25" y1="831.90" x2="78.25" y2="842.80" stroke="#5ea4de" stroke-width="1.2"/>
<line x1="75.95" y1="831.90" x2="80.55" y2="831.90" stroke="#5ea4de" stroke-width="1.2"/>
<line x1="75.95" y1="842.80" x2="80.55" y2="842.80" stroke="#5ea4de" stroke-width="1.2"/>
<rect x="88.70" y="799.20" width="7.10" height="43.60" fill="#8c90b6"/>
<rect x="88.70" y="783.10" width="7.10" height="5.80" fill="#8c90b6"/>
<line x1="92.25" y1="782.48" x2="92.25" y2="783.51" stroke="#2c4a7e" stroke-width="1.2"/>
<line x1="89.95" y1="782.48" x2="94.55" y2="782.48" stroke="#2c4a7e" stroke-width="1.2"/>
<line x1="89.95" y1="783.51" x2="94.55" y2="783.51" stroke="#2c4a7e" stroke-width="1.2"/>
<rect x="98.80" y="799.20" width="7.10" height="43.60" fill="#b8d3f0"/>
<rect x="98.80" y="783.72" width="7.10" height="5.18" fill="#b8d3f0"/>
<line x1="102.35" y1="783.10" x2="102.35" y2="784.34" stroke="#5ea4de" stroke-width="1.2"/>
<line x1="100.05" y1="783.10" x2="104.65" y2="783.10" stroke="#5ea4de" stroke-width="1.2"/>
<line x1="100.05" y1="784.34" x2="104.65" y2="784.34" stroke="#5ea4de" stroke-width="1.2"/>
<rect x="112.80" y="799.20" width="7.10" height="43.60" fill="#8c90b6"/>
<rect x="112.80" y="737.73" width="7.10" height="51.17" fill="#8c90b6"/>
<line x1="116.35" y1="732.97" x2="116.35" y2="741.25" stroke="#2c4a7e" stroke-width="1.2"/>
<line x1="114.05" y1="732.97" x2="118.65" y2="732.97" stroke="#2c4a7e" stroke-width="1.2"/>
<line x1="114.05" y1="741.25" x2="118.65" y2="741.25" stroke="#2c4a7e" stroke-width="1.2"/>
<rect x="122.90" y="799.20" width="7.10" height="43.60" fill="#b8d3f0"/>
<rect x="122.90" y="734.62" width="7.10" height="54.28" fill="#b8d3f0"/>
<line x1="126.45" y1="730.89" x2="126.45" y2="738.14" stroke="#5ea4de" stroke-width="1.2"/>
<line x1="124.15" y1="730.89" x2="128.75" y2="730.89" stroke="#5ea4de" stroke-width="1.2"/>
<line x1="124.15" y1="738.14" x2="128.75" y2="738.14" stroke="#5ea4de" stroke-width="1.2"/>
<rect x="136.90" y="799.20" width="7.10" height="43.60" fill="#8c90b6"/>
<rect x="136.90" y="768.18" width="7.10" height="20.72" fill="#8c90b6"/>
<line x1="140.45" y1="767.77" x2="140.45" y2="768.60" stroke="#2c4a7e" stroke-width="1.2"/>
<line x1="138.15" y1="767.77" x2="142.75" y2="767.77" stroke="#2c4a7e" stroke-width="1.2"/>
<line x1="138.15" y1="768.60" x2="142.75" y2="768.60" stroke="#2c4a7e" stroke-width="1.2"/>
<rect x="147.00" y="799.20" width="7.10" height="43.60" fill="#b8d3f0"/>
<rect x="147.00" y="767.15" width="7.10" height="21.75" fill="#b8d3f0"/>
<line x1="150.55" y1="766.11" x2="150.55" y2="768.18" stroke="#5ea4de" stroke-width="1.2"/>
<line x1="148.25" y1="766.11" x2="152.85" y2="766.11" stroke="#5ea4de" stroke-width="1.2"/>
<line x1="148.25" y1="768.18" x2="152.85" y2="768.18" stroke="#5ea4de" stroke-width="1.2"/>
<rect x="161.00" y="810.10" width="7.10" height="32.70" fill="#8c90b6"/>
<line x1="164.55" y1="799.20" x2="164.55" y2="838.22" stroke="#2c4a7e" stroke-width="1.2"/>
<line x1="162.25" y1="799.20" x2="166.85" y2="799.20" stroke="#2c4a7e" stroke-width="1.2"/>
<line x1="162.25" y1="838.22" x2="166.85" y2="838.22" stroke="#2c4a7e" stroke-width="1.2"/>
<rect x="171.10" y="813.37" width="7.10" height="29.43" fill="#b8d3f0"/>
<line x1="174.65" y1="799.20" x2="174.65" y2="826.67" stroke="#5ea4de" stroke-width="1.2"/>
<line x1="172.35" y1="799.20" x2="176.95" y2="799.20" stroke="#5ea4de" stroke-width="1.2"/>
<line x1="172.35" y1="826.67" x2="176.95" y2="826.67" stroke="#5ea4de" stroke-width="1.2"/>
<rect x="185.10" y="799.20" width="7.10" height="43.60" fill="#8c90b6"/>
<rect x="185.10" y="768.18" width="7.10" height="20.72" fill="#8c90b6"/>
<rect x="195.20" y="799.20" width="7.10" height="43.60" fill="#b8d3f0"/>
<rect x="195.20" y="768.18" width="7.10" height="20.72" fill="#b8d3f0"/>
<line x1="60.30" y1="723.15" x2="60.30" y2="788.90" stroke="#000" stroke-width="1.4"/>
<line x1="60.30" y1="799.20" x2="60.30" y2="843.50" stroke="#000" stroke-width="1.4"/>
<line x1="55.90" y1="788.90" x2="64.30" y2="788.90" stroke="#000" stroke-width="1.4"/>
<line x1="55.90" y1="799.20" x2="64.30" y2="799.20" stroke="#000" stroke-width="1.4"/>
<line x1="55.90" y1="726.75" x2="60.30" y2="726.75" stroke="#000" stroke-width="1.4"/>
<text x="50.50" y="729.95" font-size="9.2" text-anchor="end" fill="#000">3</text>
<line x1="55.90" y1="747.47" x2="60.30" y2="747.47" stroke="#000" stroke-width="1.4"/>
<text x="50.50" y="750.67" font-size="9.2" text-anchor="end" fill="#000">2</text>
<line x1="55.90" y1="768.18" x2="60.30" y2="768.18" stroke="#000" stroke-width="1.4"/>
<text x="50.50" y="771.38" font-size="9.2" text-anchor="end" fill="#000">1</text>
<text x="50.50" y="792.10" font-size="9.2" text-anchor="end" fill="#000">0.002</text>
<text x="50.50" y="802.40" font-size="9.2" text-anchor="end" fill="#000">0.002</text>
<line x1="55.90" y1="821.00" x2="60.30" y2="821.00" stroke="#000" stroke-width="1.4"/>
<text x="50.50" y="824.20" font-size="9.2" text-anchor="end" fill="#000">0.001</text>
<line x1="55.90" y1="842.80" x2="60.30" y2="842.80" stroke="#000" stroke-width="1.4"/>
<text x="50.50" y="846.00" font-size="9.2" text-anchor="end" fill="#000">0.000</text>
<line x1="55.90" y1="842.80" x2="207.00" y2="842.80" stroke="#000" stroke-width="1.4"/>
<line x1="73.25" y1="842.80" x2="73.25" y2="847.60" stroke="#000" stroke-width="1.3"/>
<text x="76.85" y="857.80" font-size="9.0" text-anchor="end" fill="#000" font-style="italic" transform="rotate(-45 76.85 857.80)">BCL-W</text>
<line x1="97.35" y1="842.80" x2="97.35" y2="847.60" stroke="#000" stroke-width="1.3"/>
<text x="100.95" y="857.80" font-size="9.0" text-anchor="end" fill="#000" font-style="italic" transform="rotate(-45 100.95 857.80)">BFL-1</text>
<line x1="121.45" y1="842.80" x2="121.45" y2="847.60" stroke="#000" stroke-width="1.3"/>
<text x="125.05" y="857.80" font-size="9.0" text-anchor="end" fill="#000" font-style="italic" transform="rotate(-45 125.05 857.80)">MCL-1</text>
<line x1="145.55" y1="842.80" x2="145.55" y2="847.60" stroke="#000" stroke-width="1.3"/>
<text x="149.15" y="857.80" font-size="9.0" text-anchor="end" fill="#000" font-style="italic" transform="rotate(-45 149.15 857.80)">BCL-XL</text>
<line x1="169.65" y1="842.80" x2="169.65" y2="847.60" stroke="#000" stroke-width="1.3"/>
<text x="173.25" y="857.80" font-size="9.0" text-anchor="end" fill="#000" font-style="italic" transform="rotate(-45 173.25 857.80)">BCL-2</text>
<line x1="193.75" y1="842.80" x2="193.75" y2="847.60" stroke="#000" stroke-width="1.3"/>
<text x="197.35" y="857.80" font-size="9.0" text-anchor="end" fill="#000" font-style="italic" transform="rotate(-45 197.35 857.80)">HMBS</text>
<text x="133.60" y="894.40" font-size="11.0" text-anchor="middle" fill="#000" textLength="36.4" lengthAdjust="spacingAndGlyphs" class="c">Transcript</text>
<text x="20.00" y="782.90" font-size="11.0" text-anchor="middle" fill="#000" textLength="44.4" lengthAdjust="spacingAndGlyphs" class="c" transform="rotate(-90 20.00 782.90)">Fold change</text>
<text x="336.30" y="715.60" font-size="11.6" text-anchor="middle" fill="#000">HT</text>
<rect x="275.50" y="833.64" width="7.10" height="9.16" fill="#8c90b6"/>
<line x1="279.05" y1="832.55" x2="279.05" y2="834.73" stroke="#2c4a7e" stroke-width="1.2"/>
<line x1="276.75" y1="832.55" x2="281.35" y2="832.55" stroke="#2c4a7e" stroke-width="1.2"/>
<line x1="276.75" y1="834.73" x2="281.35" y2="834.73" stroke="#2c4a7e" stroke-width="1.2"/>
<rect x="285.60" y="841.93" width="7.10" height="0.87" fill="#b8d3f0"/>
<line x1="289.15" y1="841.06" x2="289.15" y2="842.80" stroke="#5ea4de" stroke-width="1.2"/>
<line x1="286.85" y1="841.06" x2="291.45" y2="841.06" stroke="#5ea4de" stroke-width="1.2"/>
<line x1="286.85" y1="842.80" x2="291.45" y2="842.80" stroke="#5ea4de" stroke-width="1.2"/>
<rect x="299.60" y="826.01" width="7.10" height="16.79" fill="#8c90b6"/>
<line x1="303.15" y1="822.09" x2="303.15" y2="830.16" stroke="#2c4a7e" stroke-width="1.2"/>
<line x1="300.85" y1="822.09" x2="305.45" y2="822.09" stroke="#2c4a7e" stroke-width="1.2"/>
<line x1="300.85" y1="830.16" x2="305.45" y2="830.16" stroke="#2c4a7e" stroke-width="1.2"/>
<rect x="309.70" y="816.42" width="7.10" height="26.38" fill="#b8d3f0"/>
<line x1="313.25" y1="815.33" x2="313.25" y2="817.29" stroke="#5ea4de" stroke-width="1.2"/>
<line x1="310.95" y1="815.33" x2="315.55" y2="815.33" stroke="#5ea4de" stroke-width="1.2"/>
<line x1="310.95" y1="817.29" x2="315.55" y2="817.29" stroke="#5ea4de" stroke-width="1.2"/>
<rect x="323.70" y="799.20" width="7.10" height="43.60" fill="#8c90b6"/>
<rect x="323.70" y="746.64" width="7.10" height="42.26" fill="#8c90b6"/>
<line x1="327.25" y1="745.39" x2="327.25" y2="747.88" stroke="#2c4a7e" stroke-width="1.2"/>
<line x1="324.95" y1="745.39" x2="329.55" y2="745.39" stroke="#2c4a7e" stroke-width="1.2"/>
<line x1="324.95" y1="747.88" x2="329.55" y2="747.88" stroke="#2c4a7e" stroke-width="1.2"/>
<rect x="333.80" y="799.20" width="7.10" height="43.60" fill="#b8d3f0"/>
<rect x="333.80" y="741.25" width="7.10" height="47.65" fill="#b8d3f0"/>
<line x1="337.35" y1="735.87" x2="337.35" y2="746.64" stroke="#5ea4de" stroke-width="1.2"/>
<line x1="335.05" y1="735.87" x2="339.65" y2="735.87" stroke="#5ea4de" stroke-width="1.2"/>
<line x1="335.05" y1="746.64" x2="339.65" y2="746.64" stroke="#5ea4de" stroke-width="1.2"/>
<rect x="347.80" y="799.20" width="7.10" height="43.60" fill="#8c90b6"/>
<rect x="347.80" y="781.44" width="7.10" height="7.46" fill="#8c90b6"/>
<line x1="351.35" y1="781.03" x2="351.35" y2="781.86" stroke="#2c4a7e" stroke-width="1.2"/>
<line x1="349.05" y1="781.03" x2="353.65" y2="781.03" stroke="#2c4a7e" stroke-width="1.2"/>
<line x1="349.05" y1="781.86" x2="353.65" y2="781.86" stroke="#2c4a7e" stroke-width="1.2"/>
<rect x="357.90" y="799.20" width="7.10" height="43.60" fill="#b8d3f0"/>
<rect x="357.90" y="781.23" width="7.10" height="7.67" fill="#b8d3f0"/>
<line x1="361.45" y1="780.82" x2="361.45" y2="781.65" stroke="#5ea4de" stroke-width="1.2"/>
<line x1="359.15" y1="780.82" x2="363.75" y2="780.82" stroke="#5ea4de" stroke-width="1.2"/>
<line x1="359.15" y1="781.65" x2="363.75" y2="781.65" stroke="#5ea4de" stroke-width="1.2"/>
<rect x="371.90" y="839.09" width="7.10" height="3.71" fill="#8c90b6"/>
<line x1="375.45" y1="838.22" x2="375.45" y2="840.18" stroke="#2c4a7e" stroke-width="1.2"/>
<line x1="373.15" y1="838.22" x2="377.75" y2="838.22" stroke="#2c4a7e" stroke-width="1.2"/>
<line x1="373.15" y1="840.18" x2="377.75" y2="840.18" stroke="#2c4a7e" stroke-width="1.2"/>
<rect x="382.00" y="840.62" width="7.10" height="2.18" fill="#b8d3f0"/>
<line x1="385.55" y1="839.75" x2="385.55" y2="841.71" stroke="#5ea4de" stroke-width="1.2"/>
<line x1="383.25" y1="839.75" x2="387.85" y2="839.75" stroke="#5ea4de" stroke-width="1.2"/>
<line x1="383.25" y1="841.71" x2="387.85" y2="841.71" stroke="#5ea4de" stroke-width="1.2"/>
<rect x="396.00" y="799.20" width="7.10" height="43.60" fill="#8c90b6"/>
<rect x="396.00" y="747.47" width="7.10" height="41.43" fill="#8c90b6"/>
<rect x="406.10" y="799.20" width="7.10" height="43.60" fill="#b8d3f0"/>
<rect x="406.10" y="747.47" width="7.10" height="41.43" fill="#b8d3f0"/>
<line x1="271.00" y1="723.15" x2="271.00" y2="788.90" stroke="#000" stroke-width="1.4"/>
<line x1="271.00" y1="799.20" x2="271.00" y2="843.50" stroke="#000" stroke-width="1.4"/>
<line x1="266.60" y1="788.90" x2="275.00" y2="788.90" stroke="#000" stroke-width="1.4"/>
<line x1="266.60" y1="799.20" x2="275.00" y2="799.20" stroke="#000" stroke-width="1.4"/>
<line x1="266.60" y1="726.75" x2="271.00" y2="726.75" stroke="#000" stroke-width="1.4"/>
<text x="261.20" y="729.95" font-size="9.2" text-anchor="end" fill="#000">1.5</text>
<line x1="266.60" y1="747.47" x2="271.00" y2="747.47" stroke="#000" stroke-width="1.4"/>
<text x="261.20" y="750.67" font-size="9.2" text-anchor="end" fill="#000">1.0</text>
<line x1="266.60" y1="768.18" x2="271.00" y2="768.18" stroke="#000" stroke-width="1.4"/>
<text x="261.20" y="771.38" font-size="9.2" text-anchor="end" fill="#000">0.5</text>
<text x="261.20" y="792.10" font-size="9.2" text-anchor="end" fill="#000">0.002</text>
<text x="261.20" y="802.40" font-size="9.2" text-anchor="end" fill="#000">0.002</text>
<line x1="266.60" y1="821.00" x2="271.00" y2="821.00" stroke="#000" stroke-width="1.4"/>
<text x="261.20" y="824.20" font-size="9.2" text-anchor="end" fill="#000">0.001</text>
<line x1="266.60" y1="842.80" x2="271.00" y2="842.80" stroke="#000" stroke-width="1.4"/>
<text x="261.20" y="846.00" font-size="9.2" text-anchor="end" fill="#000">0.000</text>
<line x1="266.60" y1="842.80" x2="418.30" y2="842.80" stroke="#000" stroke-width="1.4"/>
<line x1="284.15" y1="842.80" x2="284.15" y2="847.60" stroke="#000" stroke-width="1.3"/>
<text x="287.75" y="857.80" font-size="9.0" text-anchor="end" fill="#000" font-style="italic" transform="rotate(-45 287.75 857.80)">BCL-W</text>
<line x1="308.25" y1="842.80" x2="308.25" y2="847.60" stroke="#000" stroke-width="1.3"/>
<text x="311.85" y="857.80" font-size="9.0" text-anchor="end" fill="#000" font-style="italic" transform="rotate(-45 311.85 857.80)">BFL-1</text>
<line x1="332.35" y1="842.80" x2="332.35" y2="847.60" stroke="#000" stroke-width="1.3"/>
<text x="335.95" y="857.80" font-size="9.0" text-anchor="end" fill="#000" font-style="italic" transform="rotate(-45 335.95 857.80)">MCL-1</text>
<line x1="356.45" y1="842.80" x2="356.45" y2="847.60" stroke="#000" stroke-width="1.3"/>
<text x="360.05" y="857.80" font-size="9.0" text-anchor="end" fill="#000" font-style="italic" transform="rotate(-45 360.05 857.80)">BCL-XL</text>
<line x1="380.55" y1="842.80" x2="380.55" y2="847.60" stroke="#000" stroke-width="1.3"/>
<text x="384.15" y="857.80" font-size="9.0" text-anchor="end" fill="#000" font-style="italic" transform="rotate(-45 384.15 857.80)">BCL-2</text>
<line x1="404.65" y1="842.80" x2="404.65" y2="847.60" stroke="#000" stroke-width="1.3"/>
<text x="408.25" y="857.80" font-size="9.0" text-anchor="end" fill="#000" font-style="italic" transform="rotate(-45 408.25 857.80)">HMBS</text>
<text x="344.90" y="894.40" font-size="11.0" text-anchor="middle" fill="#000" textLength="36.4" lengthAdjust="spacingAndGlyphs" class="c">Transcript</text>
<text x="230.70" y="782.90" font-size="11.0" text-anchor="middle" fill="#000" textLength="44.4" lengthAdjust="spacingAndGlyphs" class="c" transform="rotate(-90 230.70 782.90)">Fold change</text>
<line x1="279.20" y1="824.50" x2="289.00" y2="824.50" stroke="#000" stroke-width="1.2"/>
<text x="284.10" y="822.60" font-size="6.0" text-anchor="middle" fill="#000">*</text>
<rect x="427.60" y="720.20" width="13.30" height="6.80" fill="#8c90b6"/>
<text x="444.90" y="726.60" font-size="9.0" text-anchor="start" fill="#000">sgNT</text>
<rect x="427.60" y="735.20" width="13.30" height="7.20" fill="#b8d3f0"/>
<text x="444.90" y="741.40" font-size="9.0" text-anchor="start" fill="#000">sg<tspan font-style="italic">BCL-W</tspan></text>
</svg></body></html>
